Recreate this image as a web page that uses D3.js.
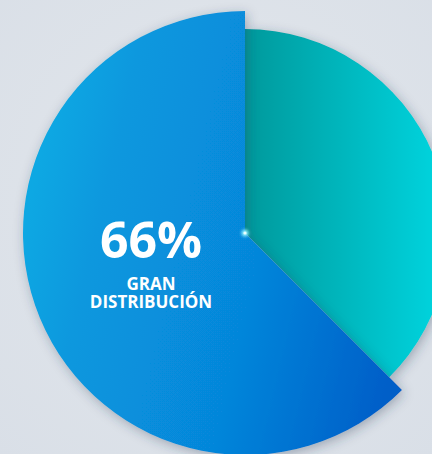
<!DOCTYPE html>
<html>
<head>
<meta charset="utf-8">
<script src="https://cdn.jsdelivr.net/npm/d3@7"></script>
<style>
  html, body { margin: 0; padding: 0; }
  body { width: 432px; height: 454px; overflow: hidden; background: #dce2e9; }
</style>
</head>
<body>
<div id="chart"></div>
<script>
// slices as drawn (clockwise from 12 o'clock)
const segments = ["otros", "gran distribución"]
const shares = [37.5, 62.5]
const radii = [204, 222]
const labelBig = "66%"
const labelLines = ["GRAN", "DISTRIBUCIÓN"]

const width = 432, height = 454
const cx = 245, cy = 233

const svg = d3.select("#chart").append("svg")
    .attr("width", width)
    .attr("height", height)
    .attr("viewBox", [0, 0, width, height])

const defs = svg.append("defs")

let bg = defs.append("radialGradient").attr("id", "bg").attr("cx", "50%").attr("cy", "45%").attr("r", "75%")
bg.append("stop").attr("offset", "0").attr("stop-color", "#e3e7ec")
bg.append("stop").attr("offset", "1").attr("stop-color", "#d9dfe7")

// gradient coords are relative to the pie centre
let gBlue = defs.append("linearGradient").attr("id", "gBlue")
    .attr("gradientUnits", "userSpaceOnUse")
    .attr("x1", -223).attr("y1", 0).attr("x2", 160).attr("y2", 90)
gBlue.append("stop").attr("offset", "0").attr("stop-color", "#0aa8e3")
gBlue.append("stop").attr("offset", "0.18").attr("stop-color", "#0898de")
gBlue.append("stop").attr("offset", "0.6").attr("stop-color", "#0686da")
gBlue.append("stop").attr("offset", "1").attr("stop-color", "#045ec8")

let gTeal = defs.append("linearGradient").attr("id", "gTeal")
    .attr("gradientUnits", "userSpaceOnUse")
    .attr("x1", 0).attr("y1", 0).attr("x2", 195).attr("y2", 0)
gTeal.append("stop").attr("offset", "0").attr("stop-color", "#06999c")
gTeal.append("stop").attr("offset", "1").attr("stop-color", "#04d4de")

let sh = defs.append("filter").attr("id", "shadow")
    .attr("x", "-20%").attr("y", "-20%").attr("width", "140%").attr("height", "140%")
sh.append("feDropShadow").attr("dx", 2).attr("dy", 3).attr("stdDeviation", 6)
    .attr("flood-color", "#2a3a55").attr("flood-opacity", 0.35)

let glow = defs.append("filter").attr("id", "glow")
    .attr("x", "-200%").attr("y", "-200%").attr("width", "500%").attr("height", "500%")
glow.append("feGaussianBlur").attr("stdDeviation", 1.5)

svg.append("rect").attr("width", width).attr("height", height).attr("fill", "url(#bg)")

const pie = d3.pie().sort(null).value(d => d)
const arcs = pie(shares)
const fills = ["url(#gTeal)", "url(#gBlue)"]

const g = svg.append("g").attr("transform", `translate(${cx},${cy})`)

g.selectAll("path")
    .data(arcs)
    .join("path")
    .attr("d", (d, i) => d3.arc().innerRadius(0).outerRadius(radii[i])(d))
    .attr("fill", (d, i) => fills[i])
    .attr("filter", "url(#shadow)")

// centre dot
g.append("circle").attr("r", 3.5).attr("fill", "#8ff0ff").attr("filter", "url(#glow)")
g.append("circle").attr("r", 1.6).attr("fill", "#e8ffff")

const tx = 151
svg.append("text")
    .attr("x", tx).attr("y", 258)
    .attr("text-anchor", "middle")
    .attr("fill", "#fff")
    .attr("font-family", "'Open Sans', sans-serif")
    .attr("font-weight", 700)
    .attr("font-size", 50)
    .text(labelBig)

svg.append("text")
    .attr("text-anchor", "middle")
    .attr("fill", "#fff")
    .attr("font-family", "'Open Sans', sans-serif")
    .attr("font-weight", 700)
    .attr("font-size", 17)
    .selectAll("tspan")
    .data(labelLines)
    .join("tspan")
    .attr("x", tx)
    .attr("y", (d, i) => 290 + i * 18)
    .text(d => d)
</script>
</body>
</html>
